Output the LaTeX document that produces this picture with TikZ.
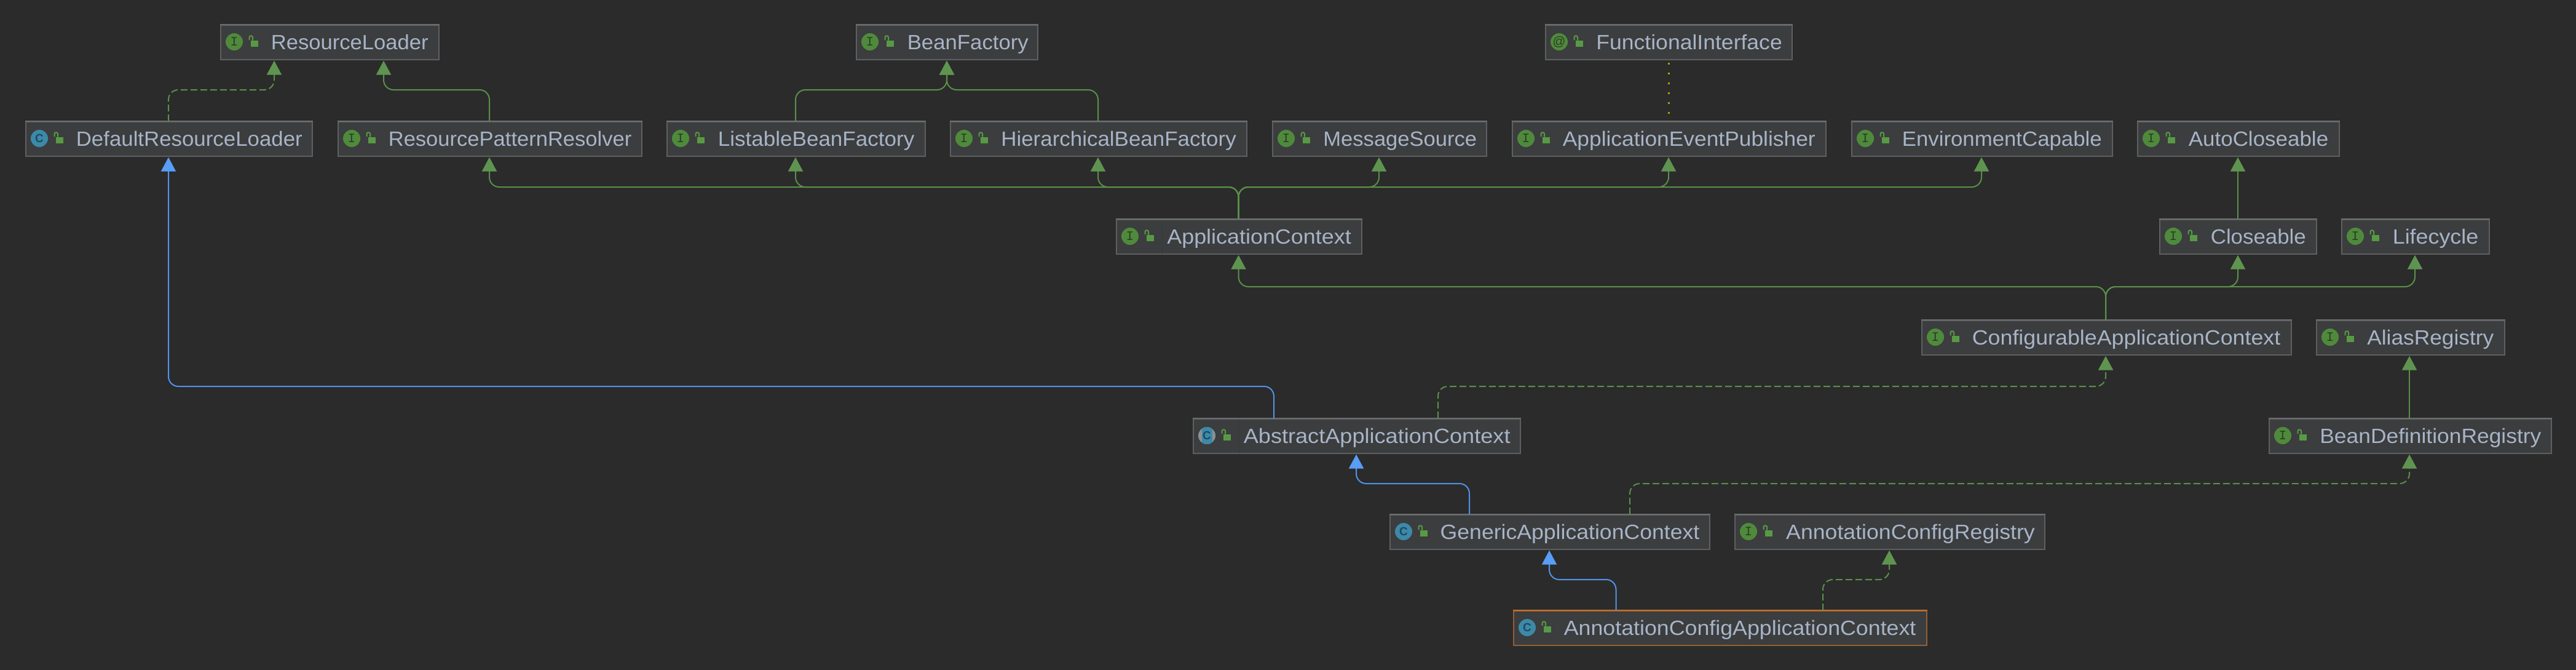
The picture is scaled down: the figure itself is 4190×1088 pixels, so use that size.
\documentclass[tikz,border=0pt]{standalone}
\usepackage{graphicx}
\usepackage{fontspec}
\setmainfont{Liberation Sans}
\newfontfamily\iconmono{Liberation Mono}
\newfontfamily\iconsans{Liberation Sans}
\usetikzlibrary{arrows.meta,calc}
\definecolor{bgc}{HTML}{2B2B2B}
\definecolor{boxfill}{HTML}{3C3D3E}
\definecolor{boxedge}{HTML}{5E5F60}
\definecolor{boxtop}{HTML}{6C6C6C}
\definecolor{orgtop}{HTML}{C8702A}
\definecolor{orgedge}{HTML}{8F5F38}
\definecolor{txt}{HTML}{A7B4C7}
\definecolor{grn}{HTML}{5A8F4A}
\definecolor{grntip}{HTML}{5F9450}
\definecolor{blu}{HTML}{5093EC}
\definecolor{blutip}{HTML}{589DF6}
\definecolor{olive}{HTML}{A8A000}
\definecolor{icgreen}{HTML}{4F8A3C}
\definecolor{icblue}{HTML}{3C89A8}
\definecolor{icgrey}{HTML}{8A9194}
\definecolor{lockc}{HTML}{589A44}
\definecolor{letg}{HTML}{2B3F24}
\definecolor{letb}{HTML}{1F4A60}
\definecolor{seamc}{HTML}{383939}
\newcommand{\boxfont}{\fontsize{33.5pt}{36pt}\selectfont}
\tikzset{
  classbox/.style={draw=boxedge,fill=boxfill,line width=1.6pt,anchor=north west,inner sep=0pt,
    minimum height=56pt,text height=39.5pt,text depth=16.5pt,text=txt,font=\boxfont},
  topedge/.style={draw=boxtop,line width=2.6pt},
  focusbox/.style={draw=orgedge},
  focustop/.style={draw=orgtop},
  impl/.style={draw=grn,line width=2pt,rounded corners=16pt,dash pattern=on 11pt off 5pt,
    -{Triangle[length=23pt,width=24pt,color=grntip]},shorten >=1pt},
  ext/.style={draw=grn,line width=2pt,rounded corners=16pt,
    -{Triangle[length=23pt,width=24pt,color=grntip]},shorten >=1pt},
  inh/.style={draw=blu,line width=2pt,rounded corners=16pt,
    -{Triangle[length=23pt,width=24pt,color=blutip]},shorten >=1pt},
  annot/.style={draw=olive,line width=3pt,dash pattern=on 3pt off 13pt,dash phase=3.5pt},
  lockbody/.style={fill=lockc,draw=none},
  lockhasp/.style={draw=lockc,line width=2pt},
  letI/.style={text=letg,inner sep=0pt,font=\iconmono\fontsize{21pt}{21pt}\selectfont},
  letC/.style={text=letb,inner sep=0pt,font=\iconsans\bfseries\fontsize{19pt}{19pt}\selectfont},
  letA/.style={text=letg,inner sep=0pt,font=\iconsans\fontsize{21pt}{21pt}\selectfont},
  seam/.style={draw=seamc,line width=1pt},
}
\newlength{\twd}
\newcommand{\boxsty}{}
\newcommand{\topsty}{}
% \cboxx{name}{x1}{y1}{x2}{text ink start}{text ink end}{text}
\newcommand{\cboxx}[7]{%
  \settowidth{\twd}{\pgfinterruptpicture\boxfont #7\endpgfinterruptpicture}%
  \pgfmathsetmacro{\bw}{#4-#2}%
  \pgfmathsetmacro{\tr}{((#6)-(#5)+3)/\twd}%
  \pgfmathsetmacro{\tx}{(#5)-(#2)-2}%
  \node[classbox,\boxsty,minimum width=\bw pt] (#1) at (#2,#3) {\makebox[\bw pt][l]{\hspace{\tx pt}\scalebox{\tr}[1]{#7}}};
  \draw[topedge,\topsty] (#1.north west) -- (#1.north east);
}
\newcommand{\lockic}[1]{%
  \fill[lockbody] ($(#1.north west)+(49.8,25.5)$) rectangle ($(#1.north west)+(61.8,35.5)$);
  \draw[lockhasp] ($(#1.north west)+(47.5,25)$) -- ($(#1.north west)+(47.5,20.5)$)
     .. controls ($(#1.north west)+(47.5,17.5)$) and ($(#1.north west)+(53,17.5)$) .. ($(#1.north west)+(53,20.5)$)
     -- ($(#1.north west)+(53,25.5)$);
}
\newcommand{\iface}[7]{\cboxx{#1}{#2}{#3}{#4}{#5}{#6}{#7}
  \fill[icgreen] ($(#1.north west)+(23,28)$) circle (14pt);
  \node[letI] (#1-ic) at ($(#1.north west)+(23,28)$) {I};
  \lockic{#1}}
\newcommand{\klass}[7]{\cboxx{#1}{#2}{#3}{#4}{#5}{#6}{#7}
  \fill[icblue] ($(#1.north west)+(23,28)$) circle (14pt);
  \node[letC] (#1-ic) at ($(#1.north west)+(23,28)$) {C};
  \lockic{#1}}
% connector: style, from node, from x, mid y, to x, to node
\newcommand{\conn}[6]{\draw[#1] (#2.north -| #3,0) -- (#3,#4) -- (#5,#4) -- (#6.south -| #5,0);}
\begin{document}
\begin{tikzpicture}[x=1pt,y=-1pt]
\useasboundingbox (0,0) rectangle (4190,1088);
\fill[bgc] (-6,-6) rectangle (4196,1094);
% row 1
\iface{rl}{358}{40}{713}{442}{695}{ResourceLoader}
\iface{bf}{1392}{40}{1687}{1477}{1671}{BeanFactory}
\cboxx{fi}{2513}{40}{2914}{2597.6}{2897}{FunctionalInterface}
\fill[icgreen] ($(fi.north west)+(23,28)$) circle (14pt);
\node[letA] (fi-ic) at ($(fi.north west)+(23,28)$) {@};
\lockic{fi}
% row 2
\klass{dr}{41}{197}{507}{125}{490}{DefaultResourceLoader}
\iface{rp}{549}{197}{1043}{633}{1025.6}{ResourcePatternResolver}
\iface{lb}{1084}{197}{1504}{1169}{1485.6}{ListableBeanFactory}
\iface{hb}{1545}{197}{2027}{1629.5}{2009}{HierarchicalBeanFactory}
\iface{ms}{2069}{197}{2417}{2153.6}{2400.4}{MessageSource}
\iface{ae}{2459}{197}{2969}{2543}{2951}{ApplicationEventPublisher}
\iface{ec}{3011}{197}{3435}{3095}{3417}{EnvironmentCapable}
\iface{ac}{3476}{197}{3804}{3561}{3785.4}{AutoCloseable}
% row 3
\iface{ap}{1815}{356}{2214}{1899.5}{2196}{ApplicationContext}
\draw[seam] ($(ap.north west)+(75,2)$) -- ($(ap.south west)+(75,-1)$);
\iface{cl}{3512}{356}{3767}{3597}{3749}{Closeable}
\iface{lc}{3808}{356}{4048}{3893}{4029.5}{Lifecycle}
% row 4
\iface{ca}{3125}{520}{3726}{3209}{3707.6}{ConfigurableApplicationContext}
\iface{ar}{3767}{520}{4073}{3851.5}{4054.5}{AliasRegistry}
% row 5
\cboxx{ab}{1940}{680}{2472}{2024}{2454.8}{AbstractApplicationContext}
\draw[seam] ($(ab.north west)+(75,2)$) -- ($(ab.south west)+(75,-1)$);
\begin{scope}
  \clip ($(ab.north west)+(9,14)$) rectangle ($(ab.north west)+(37,42)$);
  \fill[icgrey] ($(ab.north west)+(23,28)$) circle (14pt);
  \clip ($(ab.north west)+(23,28)$) circle (14pt);
  \fill[icblue] ($(ab.north west)+(14.5,14)$) rectangle ($(ab.north west)+(31.5,42)$);
\end{scope}
\node[letC] (ab-ic) at ($(ab.north west)+(23,28)$) {C};
\lockic{ab}
\iface{bd}{3690}{680}{4149}{3774.5}{4131.6}{BeanDefinitionRegistry}
% row 6
\klass{ge}{2260}{836}{2780}{2343.9}{2762.5}{GenericApplicationContext}
\iface{cr}{2821}{836}{3325}{2906.4}{3308}{AnnotationConfigRegistry}
% row 7
\renewcommand{\boxsty}{focusbox}
\renewcommand{\topsty}{focustop}
\klass{an}{2461}{992}{3133}{2545}{3114.7}{AnnotationConfigApplicationContext}
% connectors
\conn{impl}{dr}{274}{146}{446}{rl}
\conn{ext}{rp}{796}{146}{624}{rl}
\conn{ext}{lb}{1294}{146}{1540}{bf}
\conn{ext}{hb}{1786}{146}{1540}{bf}
\draw[annot] (ae.north -| 2714,0) -- (fi.south -| 2714,0);
\conn{ext}{ap}{2014.5}{304}{796}{rp}
\conn{ext}{ap}{2014.5}{304}{1294}{lb}
\conn{ext}{ap}{2014.5}{304}{1786}{hb}
\conn{ext}{ap}{2014.5}{304}{2243}{ms}
\conn{ext}{ap}{2014.5}{304}{2714}{ae}
\conn{ext}{ap}{2014.5}{304}{3223}{ec}
\draw[ext] (cl.north -| 3640,0) -- (ac.south -| 3640,0);
\conn{ext}{ca}{3425}{466}{2014.5}{ap}
\conn{ext}{ca}{3425}{466}{3640}{cl}
\conn{ext}{ca}{3425}{466}{3928}{lc}
\draw[ext] (bd.north -| 3919,0) -- (ar.south -| 3919,0);
\conn{inh}{ab}{2072}{628}{274}{dr}
\conn{impl}{ab}{2339}{628}{3425}{ca}
\conn{inh}{ge}{2390}{786}{2206}{ab}
\conn{impl}{ge}{2651}{786}{3919}{bd}
\conn{inh}{an}{2628.5}{942}{2520}{ge}
\conn{impl}{an}{2965}{942}{3073}{cr}
\end{tikzpicture}
\end{document}
